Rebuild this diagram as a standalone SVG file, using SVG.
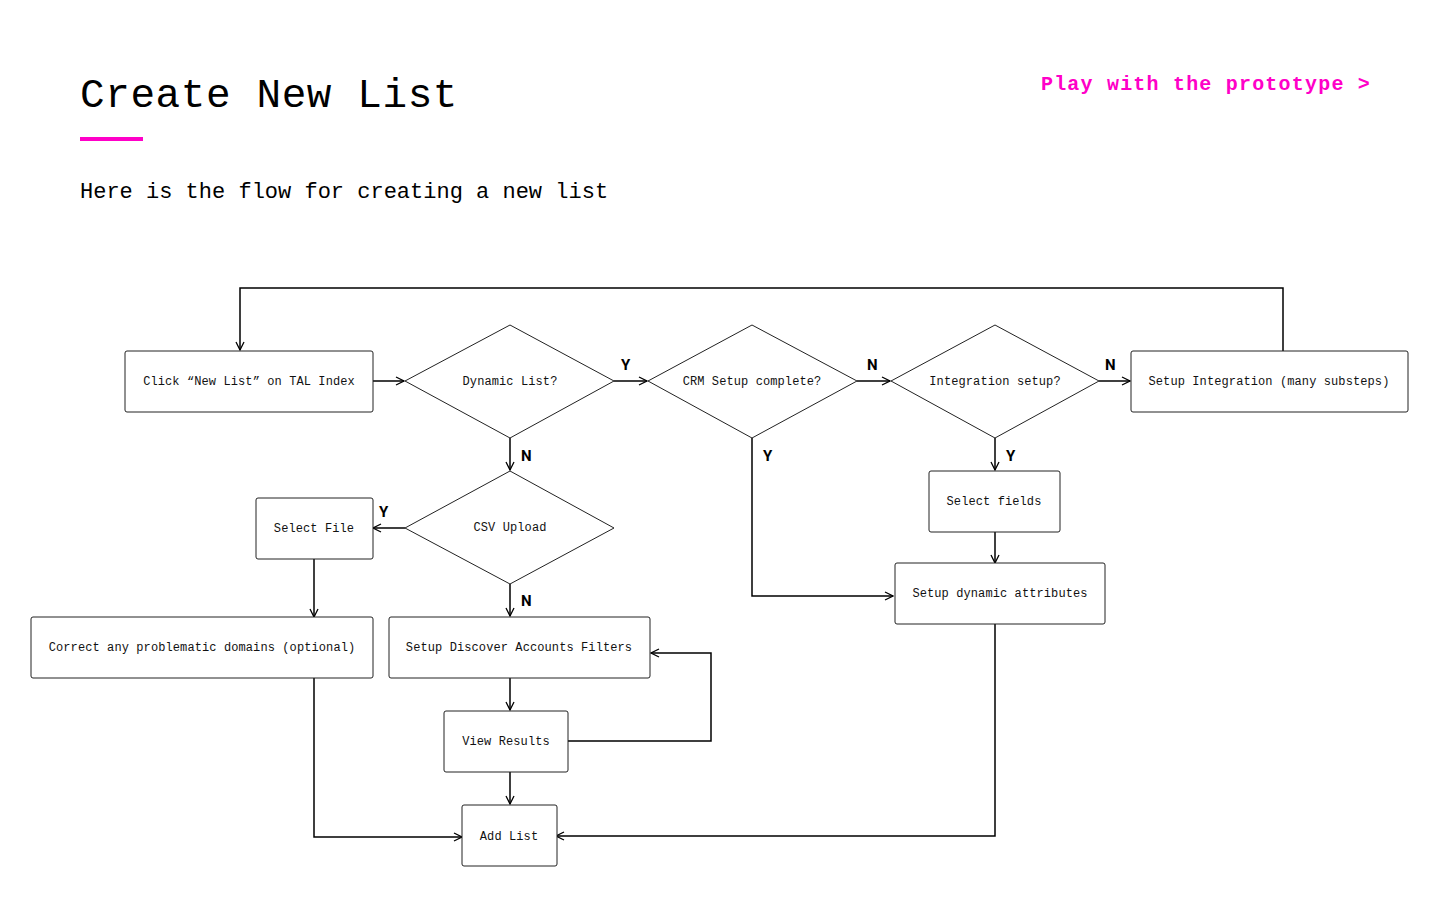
<svg xmlns="http://www.w3.org/2000/svg" width="1440" height="900" viewBox="0 0 1440 900">
<defs>
<style>
.n rect,.n polygon{fill:#fff;stroke:#222;stroke-width:1}
.n text{font-family:"Liberation Mono","DejaVu Sans Mono",monospace;font-size:12px;letter-spacing:0.1px;fill:#111;text-anchor:middle}
.c path{fill:none;stroke:#000;stroke-width:1.5;marker-end:url(#a)}
.lbl{font-family:"Roboto","Liberation Sans",sans-serif;font-weight:bold;font-size:15px;fill:#000}
</style>
<marker id="a" viewBox="0 0 10 10" refX="9" refY="5" markerWidth="10" markerHeight="10" markerUnits="userSpaceOnUse" orient="auto"><path d="M1,1 L9,5 L1,9" fill="none" stroke="#000" stroke-width="1.3"/></marker>
</defs>
<rect width="1440" height="900" fill="#fff"/>
<text x="80" y="107" font-family="Liberation Mono,DejaVu Sans Mono,monospace" font-size="41" letter-spacing="0.6" fill="#000">Create New List</text>
<rect x="80" y="137" width="63" height="4" fill="#ff00c8"/>
<text x="80" y="198" font-family="Liberation Mono,DejaVu Sans Mono,monospace" font-size="22" fill="#000">Here is the flow for creating a new list</text>
<text x="1371" y="90" text-anchor="end" font-family="Liberation Mono,DejaVu Sans Mono,monospace" font-size="20" font-weight="bold" letter-spacing="1.2" fill="#ff00c8">Play with the prototype &gt;</text>

<g class="c">
<path d="M1283,351 V288 H240 V350"/>
<path d="M373,381 H404"/>
<path d="M614,381 H647"/>
<path d="M857,381 H890"/>
<path d="M1099,381 H1130"/>
<path d="M510,438 V470"/>
<path d="M752,438 V596 H893"/>
<path d="M995,438 V470"/>
<path d="M995,532 V563"/>
<path d="M995,624 V836 H556"/>
<path d="M405,528 H373"/>
<path d="M510,584 V616"/>
<path d="M314,559 V617"/>
<path d="M314,678 V837 H462"/>
<path d="M510,678 V710"/>
<path d="M510,772 V804"/>
<path d="M568,741 H711 V653 H651"/>
</g>
<g>
<text class="lbl" x="621" y="370">Y</text>
<text class="lbl" x="867" y="370">N</text>
<text class="lbl" x="1105" y="370">N</text>
<text class="lbl" x="521" y="461">N</text>
<text class="lbl" x="763" y="461">Y</text>
<text class="lbl" x="1006" y="461">Y</text>
<text class="lbl" x="379" y="517">Y</text>
<text class="lbl" x="521" y="606">N</text>
</g>

<g class="n" id="click"><rect x="125" y="351" width="248" height="61" rx="2"/><text x="249" y="385">Click “New List” on TAL Index</text></g>
<g class="n" id="dynamic"><polygon points="510,325 614,381 510,438 405,381"/><text x="510" y="385">Dynamic List?</text></g>
<g class="n" id="crm"><polygon points="752,325 857,381 752,438 648,381"/><text x="752" y="385">CRM Setup complete?</text></g>
<g class="n" id="integration"><polygon points="995,325 1099,381 995,438 891,381"/><text x="995" y="385">Integration setup?</text></g>
<g class="n" id="setupint"><rect x="1131" y="351" width="277" height="61" rx="2"/><text x="1269" y="385">Setup Integration (many substeps)</text></g>
<g class="n" id="csv"><polygon points="510,471 614,528 510,584 405,528"/><text x="510" y="531">CSV Upload</text></g>
<g class="n" id="selectfile"><rect x="256" y="498" width="117" height="61" rx="2"/><text x="314" y="532">Select File</text></g>
<g class="n" id="correct"><rect x="31" y="617" width="342" height="61" rx="2"/><text x="202" y="651">Correct any problematic domains (optional)</text></g>
<g class="n" id="discover"><rect x="389" y="617" width="261" height="61" rx="2"/><text x="519" y="651">Setup Discover Accounts Filters</text></g>
<g class="n" id="view"><rect x="444" y="711" width="124" height="61" rx="2"/><text x="506" y="745">View Results</text></g>
<g class="n" id="add"><rect x="462" y="805" width="95" height="61" rx="2"/><text x="509" y="840">Add List</text></g>
<g class="n" id="fields"><rect x="929" y="471" width="131" height="61" rx="2"/><text x="994" y="505">Select fields</text></g>
<g class="n" id="dynattr"><rect x="895" y="563" width="210" height="61" rx="2"/><text x="1000" y="597">Setup dynamic attributes</text></g>
</svg>
